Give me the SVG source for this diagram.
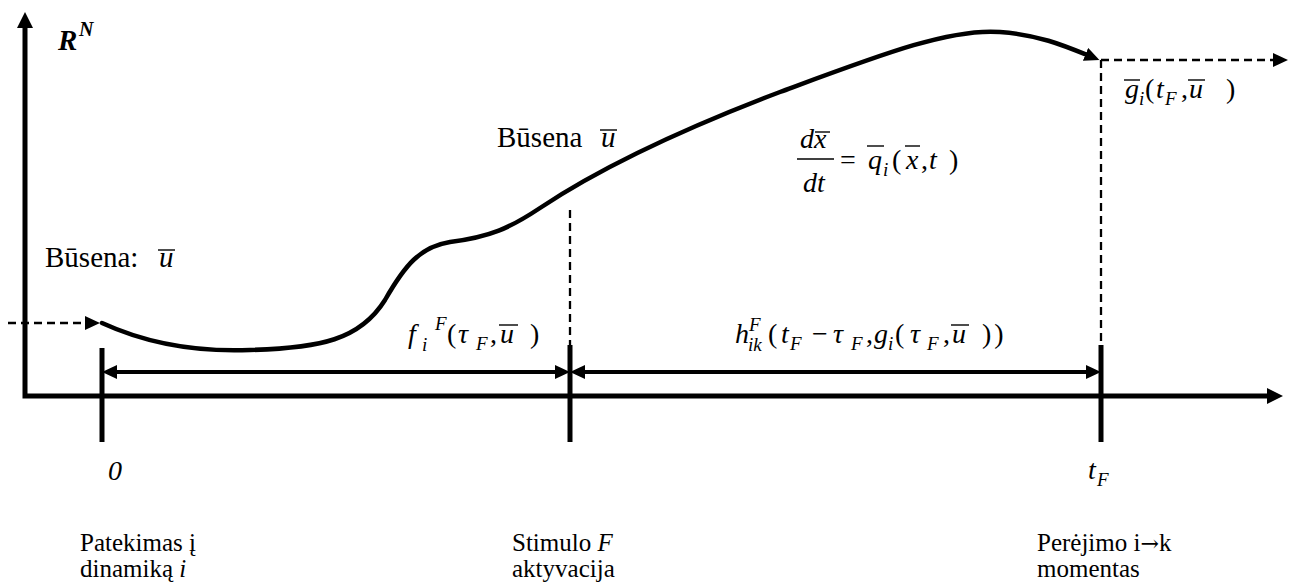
<svg xmlns="http://www.w3.org/2000/svg" width="1293" height="586" viewBox="0 0 1293 586" font-family="'Liberation Serif', 'DejaVu Serif', serif">
<style>
text{font-family:"Liberation Serif","DejaVu Serif",serif;fill:#000}
.lab{font-size:25px}
.big{font-size:29px}
.m{font-size:28px;font-style:italic}
.s{font-size:19px;font-style:italic}
.up{font-size:28px}
.ax{fill:none;stroke:#000;stroke-width:5}
.tick{stroke:#000;stroke-width:5}
.dbl{stroke:#000;stroke-width:4}
.dash{fill:none;stroke:#000;stroke-width:2.3;stroke-dasharray:8 5}
.curve{fill:none;stroke:#000;stroke-width:4.5;stroke-linecap:round}
.bar{stroke:#000;stroke-width:1.4}
</style>
<defs>
<marker id="ah" markerUnits="userSpaceOnUse" markerWidth="18" markerHeight="16" refX="8" refY="8" orient="auto-start-reverse"><path d="M0,0 L16,8 L0,16 z" fill="#000"/></marker>
<marker id="as" markerUnits="userSpaceOnUse" markerWidth="16" markerHeight="14" refX="7" refY="7" orient="auto-start-reverse"><path d="M0,0 L15,7 L0,14 z" fill="#000"/></marker>
</defs>
<rect width="1293" height="586" fill="#fff"/>

<g id="axes">
<path class="ax" d="M25,20 V396 H1275" marker-start="url(#ah)" marker-end="url(#ah)"/>
<text x="58" y="50" style="font-size:29px;font-weight:bold;font-style:italic">R</text>
<text x="79" y="36" style="font-size:20px;font-weight:bold;font-style:italic">N</text>
</g>

<g id="connectors">
<path class="curve" d="M102,323 C150,345 200,352 250,350 C320,348 360,340 385,300 C405,265 420,247 450,242 C490,237 510,228 540,208 C600,168 680,130 780,92 C880,55 950,28 1000,32 C1040,35 1065,46 1092,57" marker-end="url(#as)"/>
<line class="dash" x1="8" y1="323" x2="92" y2="323" marker-end="url(#as)"/>
<line class="dash" x1="1101" y1="60" x2="1280" y2="60" marker-end="url(#as)"/>
<line class="dash" x1="570" y1="210" x2="570" y2="346"/>
<line class="dash" x1="1101" y1="60" x2="1101" y2="345"/>
<line class="tick" x1="102" y1="348" x2="102" y2="442"/>
<line class="tick" x1="570" y1="345" x2="570" y2="442"/>
<line class="tick" x1="1101" y1="345" x2="1101" y2="442"/>
<line class="dbl" x1="110" y1="372" x2="562" y2="372" marker-start="url(#as)" marker-end="url(#as)"/>
<line class="dbl" x1="578" y1="372" x2="1093" y2="372" marker-start="url(#as)" marker-end="url(#as)"/>
</g>

<g id="state-start">
<text class="big" x="45" y="267">Būsena:</text>
<text class="m" x="159" y="267" style="font-size:29px">u</text>
<line class="bar" x1="158" y1="250" x2="175" y2="250"/>
</g>

<g id="state-mid">
<text class="big" x="497" y="147">Būsena</text>
<text class="m" x="601" y="147" style="font-size:29px">u</text>
<line class="bar" x1="600" y1="130" x2="617" y2="130"/>
</g>

<g id="label-f">
<text class="m" x="408" y="343">f</text>
<text class="s" x="422" y="351">i</text>
<text class="s" x="435" y="330">F</text>
<text class="up" x="447" y="343">(</text>
<text class="m" x="458" y="343">τ</text>
<text class="s" x="476" y="350">F</text>
<text class="up" x="490" y="343">,</text>
<text class="m" x="500" y="343">u</text>
<line class="bar" x1="499" y1="325" x2="518" y2="325"/>
<text class="up" x="530" y="343">)</text>
</g>

<g id="label-h">
<text class="m" x="735" y="343">h</text>
<text class="s" x="748" y="351">ik</text>
<text class="s" x="749" y="331">F</text>
<text class="up" x="768" y="343">(</text>
<text class="m" x="781" y="343">t</text>
<text class="s" x="790" y="350">F</text>
<text class="up" x="812" y="343">−</text>
<text class="m" x="833" y="343">τ</text>
<text class="s" x="851" y="350">F</text>
<text class="up" x="866" y="343">,</text>
<text class="m" x="874" y="343">g</text>
<text class="s" x="888" y="350">i</text>
<text class="up" x="895" y="343">(</text>
<text class="m" x="910" y="343">τ</text>
<text class="s" x="927" y="350">F</text>
<text class="up" x="943" y="343">,</text>
<text class="m" x="952" y="343">u</text>
<line class="bar" x1="951" y1="325" x2="969" y2="325"/>
<text class="up" x="982" y="343" letter-spacing="3">))</text>
</g>

<g id="label-ode">
<text class="m" x="800" y="148">dx</text>
<line class="bar" x1="815" y1="132" x2="830" y2="132"/>
<line x1="797" y1="159" x2="834" y2="159" stroke="#000" stroke-width="1.5"/>
<text class="m" x="803" y="192">dt</text>
<text class="up" x="840" y="169">=</text>
<text class="m" x="868" y="169">q</text>
<line class="bar" x1="867" y1="146" x2="884" y2="146"/>
<text class="s" x="883" y="176">i</text>
<text class="up" x="892" y="169">(</text>
<text class="m" x="906" y="169">x</text>
<line class="bar" x1="905" y1="146" x2="920" y2="146"/>
<text class="up" x="921" y="169">,</text>
<text class="m" x="929" y="169">t</text>
<text class="up" x="949" y="169">)</text>
</g>

<g id="label-g">
<text class="m" x="1125" y="98">g</text>
<line class="bar" x1="1124" y1="80" x2="1140" y2="80"/>
<text class="s" x="1139" y="105">i</text>
<text class="up" x="1145" y="98">(</text>
<text class="m" x="1156" y="98">t</text>
<text class="s" x="1165" y="105">F</text>
<text class="up" x="1181" y="98">,</text>
<text class="m" x="1189" y="98">u</text>
<line class="bar" x1="1188" y1="80" x2="1205" y2="80"/>
<text class="up" x="1226" y="98">)</text>
</g>

<g id="time-0">
<text class="m" x="108" y="480">0</text>
<text class="lab" x="80" y="551">Patekimas į</text>
<text class="lab" x="80" y="577">dinamiką <tspan font-style="italic">i</tspan></text>
</g>

<g id="time-tau">
<text class="lab" x="512" y="551">Stimulo <tspan font-style="italic">F</tspan></text>
<text class="lab" x="512" y="577">aktyvacija</text>
</g>

<g id="time-tF">
<text class="m" x="1088" y="479">t</text>
<text class="s" x="1097" y="486">F</text>
<text class="lab" x="1037" y="551">Perėjimo i<tspan style="font-family:'DejaVu Serif',serif;font-size:22px">→</tspan>k</text>
<text class="lab" x="1037" y="577">momentas</text>
</g>
</svg>
